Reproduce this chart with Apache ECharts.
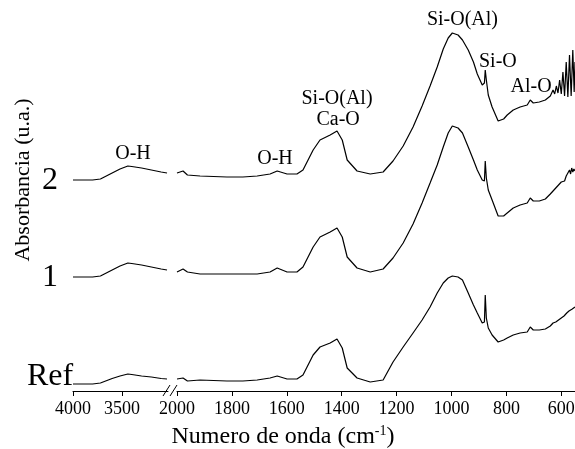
<!DOCTYPE html>
<html><head><meta charset="utf-8">
<script src="https://cdn.jsdelivr.net/npm/echarts@6/dist/echarts.min.js"></script>
<style>html,body{margin:0;padding:0;background:#fff}#c{width:575px;height:449px}</style>
</head><body><div id="c"></div>
<script>
// ---- data (wavenumber cm-1, absorbance a.u. with vertical offsets) ----
const leftWn = [4000,3800,3720,3680,3640,3600,3520,3440,3400,3300,3200,3100,3040];
const left2  = [2.11,2.11,2.12,2.14,2.16,2.18,2.22,2.25,2.245,2.23,2.21,2.19,2.18];
const left1  = [1.14,1.14,1.15,1.17,1.19,1.21,1.25,1.28,1.275,1.26,1.24,1.22,1.21];
const leftRef= [0.07,0.07,0.08,0.095,0.11,0.125,0.15,0.17,0.165,0.15,0.14,0.125,0.12];

const rightWn = [2000,1978,1962,1916,1818,1760,1708,1661,1635,1599,1563,1541,1504,1479,1442,1417,1398,1380,1344,1296,1249,1213,1176,1140,1107,1078,1052,1030,1012,997,976,960,939,920,906,888,880,877,873,866,852,830,810,797,775,750,724,713,702,680,658,640];
const right2 = [2.18,2.20,2.16,2.15,2.14,2.14,2.15,2.17,2.20,2.17,2.17,2.21,2.41,2.51,2.56,2.60,2.51,2.31,2.20,2.17,2.19,2.30,2.45,2.64,2.85,3.05,3.24,3.42,3.53,3.58,3.56,3.51,3.41,3.29,3.17,3.06,3.08,3.21,3.11,2.96,2.84,2.70,2.72,2.76,2.81,2.84,2.86,2.91,2.88,2.89,2.91,2.95];
const right1 = [1.19,1.22,1.19,1.17,1.17,1.17,1.17,1.19,1.23,1.19,1.19,1.24,1.44,1.54,1.59,1.63,1.54,1.34,1.23,1.19,1.22,1.33,1.48,1.67,1.88,2.08,2.26,2.44,2.58,2.65,2.63,2.58,2.44,2.31,2.21,2.11,2.10,2.30,2.13,2.01,1.91,1.75,1.75,1.78,1.83,1.86,1.88,1.93,1.90,1.90,1.92,1.97];
const rightRef=[0.12,0.13,0.10,0.11,0.10,0.10,0.11,0.13,0.15,0.12,0.12,0.16,0.36,0.44,0.48,0.52,0.43,0.23,0.13,0.09,0.11,0.29,0.44,0.58,0.71,0.84,0.98,1.08,1.13,1.15,1.14,1.11,0.98,0.86,0.78,0.68,0.69,0.96,0.73,0.63,0.56,0.49,0.51,0.53,0.56,0.58,0.59,0.64,0.61,0.61,0.62,0.65];

const tail2Wn = [636,630,624,618,612,606,600,594,588,582,576,570,564,558,553,550];
const tail2   = [2.96,3.01,2.97,3.05,2.98,3.11,2.97,3.19,2.95,3.29,2.94,3.36,2.95,3.41,2.99,3.29];
const tail1Wn = [630,620,610,600,594,588,582,576,570,566,562,558,554,550];
const tail1   = [2.00,2.03,2.06,2.09,2.11,2.10,2.15,2.13,2.21,2.17,2.23,2.19,2.22,2.20];
const tailRefWn=[630,620,610,600,590,580,572,566,560,555,550];
const tailRef = [0.68,0.69,0.71,0.73,0.75,0.78,0.80,0.79,0.82,0.81,0.84];

const sampleNames = ['Ref','1','2'];
const sampleLabelPos = [0.14,1.13,2.10];
const xLabelsLeft = [4000,3500];
const xMinorLeft = [3750,3250];
const xLabelsRight = [2000,1800,1600,1400,1200,1000,800,600];
const xMinorRight = [1900,1700,1500,1300,1100,900,700];

const annotations = [
  {text:'Si-O(Al)', grid:1, coord:[960,3.71]},
  {text:'Si-O', grid:1, coord:[831,3.29]},
  {text:'Al-O', grid:1, coord:[710,3.04]},
  {text:'Si-O(Al)', grid:1, coord:[1417,2.92]},
  {text:'Ca-O', grid:1, coord:[1413,2.71]},
  {text:'O-H', grid:1, coord:[1643,2.32]},
  {text:'O-H', grid:0, coord:[3387,2.37]}
];

// ---- chart ----
const FONT = '"Liberation Serif","Times New Roman",serif';
const zip = (a,b)=>a.map((v,i)=>[v,b[i]]);
const chart = echarts.init(document.getElementById('c'), null, {renderer:'canvas'});
const lineStyle = {color:'#000', width:1.2};
function ser(xi, data, extra){
  return Object.assign({type:'line', xAxisIndex:xi, yAxisIndex:xi, data, symbol:'none', lineStyle, silent:true, animation:false, clip:false}, extra||{});
}
const mkLabels = g => ({
  symbol:'circle', symbolSize:0, silent:true, animation:false,
  label:{show:true, position:'inside', color:'#000', fontFamily:FONT, fontSize:20},
  data: annotations.filter(a=>a.grid===g).map(a=>({coord:a.coord, value:a.text, label:{formatter:a.text}}))
});
const Y = {min:0, max:3.91};
const plain = v => String(v);
const option = {
  animation:false,
  backgroundColor:'#fff',
  grid:[
    {left:73, width:95, top:0, bottom:58, outerBoundsMode:'none', containLabel:false},
    {left:177, right:0, top:0, bottom:58, outerBoundsMode:'none', containLabel:false}
  ],
  xAxis:[
    {gridIndex:0, type:'value', min:3030, max:4000, inverse:true,
     axisLine:{lineStyle:{color:'#000', width:1}},
     axisTick:{customValues:xLabelsLeft, length:5, lineStyle:{color:'#000'}},
     axisLabel:{customValues:xLabelsLeft, formatter:plain, color:'#000', fontFamily:FONT, fontSize:18, margin:9},
     splitLine:{show:false}},
    {gridIndex:1, type:'value', min:550, max:2000, inverse:true,
     axisLine:{lineStyle:{color:'#000', width:1}},
     axisTick:{customValues:xLabelsRight, length:5, lineStyle:{color:'#000'}},
     axisLabel:{customValues:xLabelsRight, formatter:plain, color:'#000', fontFamily:FONT, fontSize:18, margin:9},
     splitLine:{show:false}},
    {gridIndex:0, type:'value', min:3030, max:4000, inverse:true,
     axisLine:{show:false}, axisLabel:{show:false}, splitLine:{show:false},
     axisTick:{customValues:xMinorLeft, length:3, lineStyle:{color:'#000'}}},
    {gridIndex:1, type:'value', min:550, max:2000, inverse:true,
     axisLine:{show:false}, axisLabel:{show:false}, splitLine:{show:false},
     axisTick:{customValues:xMinorRight, length:3, lineStyle:{color:'#000'}}}
  ],
  yAxis:[
    Object.assign({gridIndex:0, type:'value', axisLine:{show:false}, axisTick:{show:false}, splitLine:{show:false},
     axisLabel:{customValues:sampleLabelPos, formatter:(v)=>sampleNames[sampleLabelPos.indexOf(v)]||'', color:'#000', fontFamily:FONT, fontSize:32, align:'center', margin:23}}, Y),
    Object.assign({gridIndex:1, type:'value', show:false}, Y)
  ],
  series:[
    ser(0, zip(leftWn,left2), {markPoint:mkLabels(0)}),
    ser(0, zip(leftWn,left1)),
    ser(0, zip(leftWn,leftRef)),
    ser(1, zip(rightWn,right2).concat(zip(tail2Wn,tail2)), {markPoint:mkLabels(1)}),
    ser(1, zip(rightWn,right1).concat(zip(tail1Wn,tail1))),
    ser(1, zip(rightWn,rightRef).concat(zip(tailRefWn,tailRef)))
  ],
  graphic:[
    {type:'line', shape:{x1:163,y1:396,x2:170,y2:385}, style:{stroke:'#000', lineWidth:1}},
    {type:'line', shape:{x1:170,y1:396,x2:177,y2:385}, style:{stroke:'#000', lineWidth:1}},
    {type:'text', x:23, y:180, rotation:Math.PI/2,
     style:{text:'Absorbancia (u.a.)', fontFamily:FONT, fontSize:22, fill:'#000', align:'center', verticalAlign:'middle'}},
    {type:'text', x:283, y:437,
     style:{text:'Numero de onda (cm{sup|-1})', fontFamily:FONT, fontSize:24, fill:'#000', align:'center', verticalAlign:'middle',
       rich:{sup:{fontFamily:FONT, fontSize:14, verticalAlign:'top', padding:[0,0,12,0]}}}}
  ]
};
chart.setOption(option);
</script></body></html>
